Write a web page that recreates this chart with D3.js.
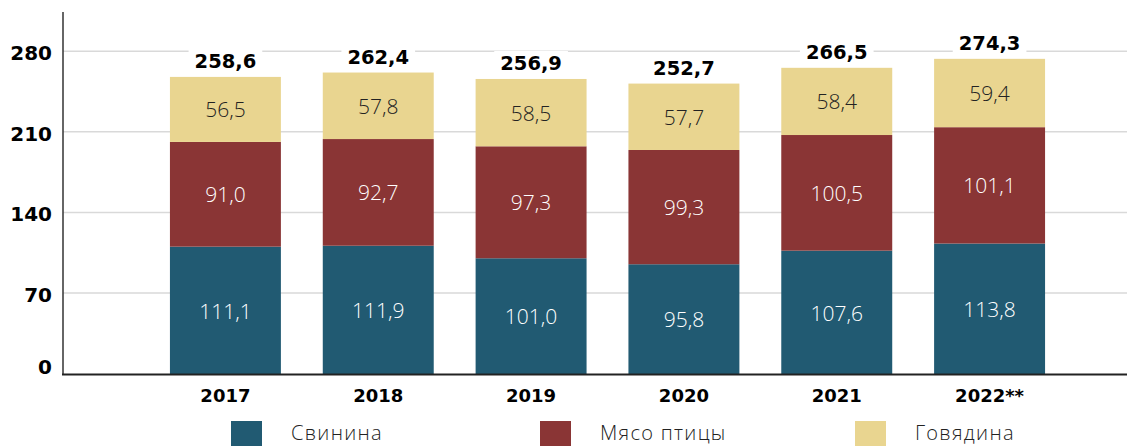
<!DOCTYPE html>
<html>
<head>
<meta charset="utf-8">
<script src="https://cdn.jsdelivr.net/npm/d3@7"></script>
<style>
  body { margin: 0; background: #fff; }
  svg text { font-family: "Open Sans", sans-serif; }
</style>
</head>
<body>
<div id="chartArea"></div>
<script>
const width = 1127;
const height = 446;

const years = ["2017", "2018", "2019", "2020", "2021", "2022**"];
const pork = [111.1, 111.9, 101.0, 95.8, 107.6, 113.8];
const poultry = [91.0, 92.7, 97.3, 99.3, 100.5, 101.1];
const beef = [56.5, 57.8, 58.5, 57.7, 58.4, 59.4];
const totals = [258.6, 262.4, 256.9, 252.7, 266.5, 274.3];
const seriesNames = ["Свинина", "Мясо птицы", "Говядина"];
const yTicks = [0, 70, 140, 210, 280];

const colors = ["#215a72", "#8a3535", "#e9d590"];
const labelColors = ["#ffffff", "#ffffff", "#222222"];

const fmt = v => v.toFixed(1).replace(".", ",");

const svg = d3.select("#chartArea")
    .append("svg")
    .attr("width", width)
    .attr("height", height);

const x = d3.scaleBand()
    .domain(years)
    .range([149, 1066])
    .paddingInner(0.274)
    .paddingOuter(0.137);

const y = d3.scaleLinear()
    .domain([0, 315])
    .range([374.5, 12]);

// gridlines
svg.append("g")
    .selectAll("line")
    .data(yTicks.filter(d => d > 0))
    .enter().append("line")
    .attr("x1", 63)
    .attr("x2", width)
    .attr("y1", d => y(d) - 1)
    .attr("y2", d => y(d) - 1)
    .attr("stroke", "#d9d9d9")
    .attr("stroke-width", 1.5);

// stacked data
const rows = years.map((yr, i) => ({ year: yr, pork: pork[i], poultry: poultry[i], beef: beef[i] }));
const stack = d3.stack().keys(["pork", "poultry", "beef"])(rows);

const layers = svg.append("g")
    .selectAll("g")
    .data(stack)
    .enter().append("g")
    .attr("fill", (d, i) => colors[i]);

layers.selectAll("rect")
    .data(d => d)
    .enter().append("rect")
    .attr("x", d => x(d.data.year))
    .attr("width", x.bandwidth())
    .attr("y", d => y(d[1]))
    .attr("height", d => y(d[0]) - y(d[1]));

layers.each(function(layer, li) {
    d3.select(this).selectAll("text")
        .data(layer)
        .enter().append("text")
        .attr("x", d => x(d.data.year) + x.bandwidth() / 2)
        .attr("y", d => (y(d[0]) + y(d[1])) / 2)
        .attr("text-anchor", "middle")
        .attr("dominant-baseline", "central")
        .attr("fill", labelColors[li])
        .style("font-size", "21px")
        .style("font-weight", 300)
        .text(d => fmt(d[1] - d[0]));
});

// totals with white background
const tot = svg.append("g")
    .selectAll("g")
    .data(years.map((yr, i) => ({ year: yr, total: totals[i], top: stack[2][i][1] })))
    .enter().append("g")
    .attr("transform", d => `translate(${x(d.year) + x.bandwidth() / 2},${y(d.top) - 15})`);

tot.append("rect")
    .attr("fill", "#fff");

tot.append("text")
    .attr("text-anchor", "middle")
    .attr("dominant-baseline", "central")
    .attr("fill", "#000")
    .style("font-family", "'DejaVu Sans', sans-serif")
    .style("font-size", "19.5px")
    .style("font-weight", "bold")
    .text(d => fmt(d.total));

tot.each(function() {
    const g = d3.select(this);
    const bb = g.select("text").node().getBBox();
    g.select("rect")
        .attr("x", bb.x - 6)
        .attr("y", -13)
        .attr("width", bb.width + 12)
        .attr("height", 26);
});

// axes lines
svg.append("line")
    .attr("x1", 63).attr("x2", 63)
    .attr("y1", 12).attr("y2", 375)
    .attr("stroke", "#333").attr("stroke-width", 1.5);

svg.append("line")
    .attr("x1", 62).attr("x2", width)
    .attr("y1", 374.5).attr("y2", 374.5)
    .attr("stroke", "#222").attr("stroke-width", 2);

// y tick labels
svg.append("g")
    .selectAll("text")
    .data(yTicks)
    .enter().append("text")
    .attr("x", 52)
    .attr("y", d => Math.min(y(d) + 1, 367))
    .attr("text-anchor", "end")
    .attr("dominant-baseline", "central")
    .style("font-family", "'DejaVu Sans', sans-serif")
    .style("font-size", "20px")
    .style("font-weight", "bold")
    .attr("fill", "#000")
    .text(d => d);

// x tick labels
svg.append("g")
    .selectAll("text")
    .data(years)
    .enter().append("text")
    .attr("x", d => x(d) + x.bandwidth() / 2)
    .attr("y", 395)
    .attr("text-anchor", "middle")
    .attr("dominant-baseline", "central")
    .style("font-family", "'DejaVu Sans', sans-serif")
    .style("font-size", "18px")
    .style("font-weight", "bold")
    .attr("fill", "#000")
    .text(d => d);

// legend
const legendX = [231, 540, 855];
const legend = svg.append("g")
    .selectAll("g")
    .data(seriesNames)
    .enter().append("g")
    .attr("transform", (d, i) => `translate(${legendX[i]},421)`);

legend.append("rect")
    .attr("width", 31)
    .attr("height", 30)
    .attr("fill", (d, i) => colors[i]);

legend.append("text")
    .attr("x", 60)
    .attr("y", 19)
    .attr("fill", "#222")
    .style("font-size", "20px")
    .style("font-weight", 300)
    .style("letter-spacing", "1.3px")
    .text(d => d);
</script>
</body>
</html>
